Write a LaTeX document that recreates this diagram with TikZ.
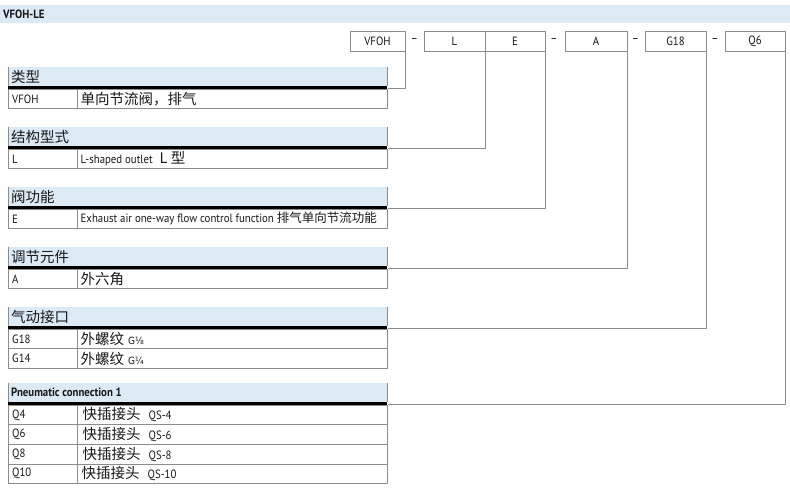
\documentclass[tikz,border=0pt]{standalone}
\usepackage{fontspec}
\setmainfont{PT Sans}[FakeStretch=0.9]
\newfontfamily\cjk{Noto Sans CJK SC}
\newfontfamily\fracf{DejaVu Sans}[FakeStretch=0.9]
\definecolor{hdrblue}{RGB}{219,234,244}
\definecolor{gridgray}{RGB}{140,140,140}
\definecolor{txt}{RGB}{25,25,25}
\newcommand\lat{\fontsize{12}{14}\selectfont}
\newcommand\cj{\cjk\fontsize{14.5}{16}\selectfont}
\tikzset{
  band/.style={fill=hdrblue, draw=none, anchor=north west, minimum width=790pt, minimum height=18pt, inner sep=0pt},
  codebox/.style={draw=gridgray, line width=0.8pt, minimum height=20pt, inner sep=0pt, text=txt, font=\lat},
  dashtxt/.style={inner sep=0pt, text=txt, font=\lat},
  hdrbox/.style={fill=hdrblue, draw=none, anchor=north west, minimum width=379pt, minimum height=19pt, inner sep=0pt},
  hdrtxt/.style={anchor=west, inner sep=0pt, text=txt},
  rowbox/.style={draw=gridgray, line width=0.8pt, anchor=north west, minimum width=379pt, minimum height=19.6pt, inner sep=0pt},
  codetxt/.style={anchor=west, inner sep=0pt, text=txt, font=\lat},
  desctxt/.style={anchor=west, inner sep=0pt, text=txt, font=\lat},
  gridline/.style={draw=gridgray, line width=0.8pt},
  blackline/.style={draw=black, line width=2.7pt},
  conn/.style={draw=gridgray, line width=0.9pt},
}
% header: name, y top, text
\newcommand\tabhead[3]{%
  \node[hdrbox] (#1) at (8,#2) {};
  \draw[gridline] (#1.north west) -- (#1.south west);
  \draw[gridline] (#1.north east) -- (#1.south east);
  \node[hdrtxt] (#1t) at ([xshift=3pt]#1.west) {#3};
  \draw[blackline] ([yshift=-1.35pt]#1.south west) -- ([yshift=-1.35pt]#1.south east);
}
% row: name, y top, code, description
\newcommand\tabrow[4]{%
  \node[rowbox] (#1) at (8,#2) {};
  \draw[gridline] ([xshift=69pt]#1.north west) -- ([xshift=69pt]#1.south west);
  \node[codetxt] (#1c) at ([xshift=4pt]#1.west) {#3};
  \node[desctxt] (#1d) at ([xshift=72.5pt]#1.west) {#4};
}
\begin{document}
\begin{tikzpicture}[x=1pt, y=-1pt]
\useasboundingbox (0,0) rectangle (790,489);
\fill[white] (0,0) rectangle (790,489);

% top band
\node[band] (topband) at (0,5) {};
\node[anchor=west, inner sep=0pt, text=txt, font=\lat\bfseries] (title) at (3,14) {VFOH-LE};

% code boxes
\node[codebox, minimum width=55pt] (cVFOH) at (377.5,41) {VFOH};
\node[dashtxt] (d1) at (414.5,41) {–};
\node[codebox, minimum width=61pt] (cL) at (454.5,41) {L};
\node[codebox, minimum width=60pt] (cE) at (515,41) {E};
\node[dashtxt] (d2) at (554,41) {–};
\node[codebox, minimum width=62pt] (cA) at (596,41) {A};
\node[dashtxt] (d3) at (635.5,41) {–};
\node[codebox, minimum width=61pt] (cG) at (675.5,41) {G18};
\node[dashtxt] (d4) at (715,41) {–};
\node[codebox, minimum width=60pt] (cQ) at (755,41) {Q6};

% table 1
\tabhead{h1}{67}{\cj 类型}
\tabrow{r11}{88.7}{VFOH}{\cj 单向节流阀，排气}

% table 2
\tabhead{h2}{127}{\cj 结构型式}
\tabrow{r21}{148.7}{L}{L-shaped outlet\hspace{7pt}{\cj L 型}}

% table 3
\tabhead{h3}{187}{\cj 阀功能}
\tabrow{r31}{208.7}{E}{Exhaust air one-way flow control function {\cjk\fontsize{12.5}{14}\selectfont 排气单向节流功能}}

% table 4
\tabhead{h4}{247}{\cj 调节元件}
\tabrow{r41}{268.7}{A}{\cj 外六角}

% table 5
\tabhead{h5}{307}{\cj 气动接口}
\tabrow{r51}{328.7}{G18}{{\cj 外螺纹}\hspace{4pt}{\fracf\fontsize{10}{11}\selectfont G⅛}}
\tabrow{r52}{348.3}{G14}{{\cj 外螺纹}\hspace{4pt}{\fracf\fontsize{10}{11}\selectfont G¼}}

% table 6
\tabhead{h6}{383}{\lat\bfseries Pneumatic connection 1}
\tabrow{r61}{404.7}{Q4}{\hspace{2pt}{\cj 快插接头}\hspace{8pt}QS-4}
\tabrow{r62}{424.3}{Q6}{\hspace{2pt}{\cj 快插接头}\hspace{8pt}QS-6}
\tabrow{r63}{443.9}{Q8}{\hspace{2pt}{\cj 快插接头}\hspace{8pt}QS-8}
\tabrow{r64}{463.5}{Q10}{\hspace{1pt}{\cj 快插接头}\hspace{8pt}QS-10}

% connectors
\draw[conn] (cVFOH.south east) |- (r11.north east);
\draw[conn] (cL.south east) |- (r21.north east);
\draw[conn] (cE.south east) |- (r31.north east);
\draw[conn] (cA.south east) |- (r41.north east);
\draw[conn] (cG.south east) |- (r51.north east);
\draw[conn] (cQ.south east) |- (r61.north east);
\end{tikzpicture}
\end{document}
